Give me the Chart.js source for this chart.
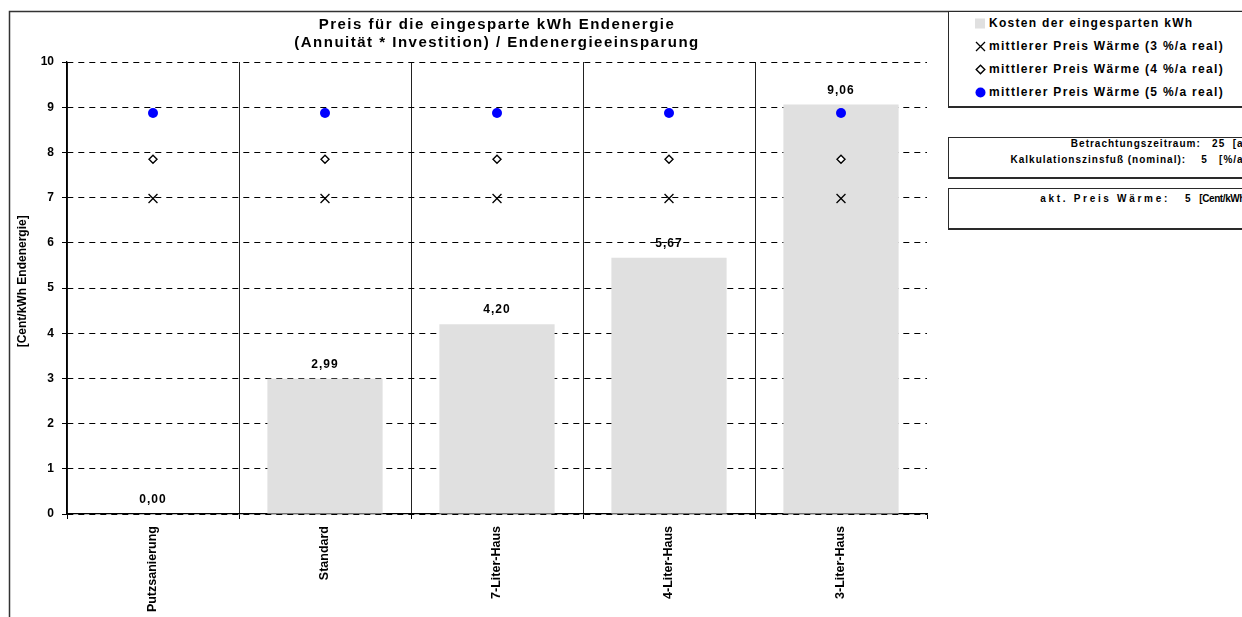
<!DOCTYPE html>
<html>
<head>
<meta charset="utf-8">
<script src="https://cdn.jsdelivr.net/npm/chart.js@4"></script>
<style>
  body { margin: 0; background: #fff; }
  #wrap { position: relative; width: 1242px; height: 617px; overflow: hidden; font-family: "Liberation Sans", Arial, sans-serif; font-weight: bold; color: #000; }
  #chart { position: absolute; left: 0; top: 0; }
  .box { position: absolute; left: 948px; background: #fff; border: 1.5px solid #2a2a2a; border-bottom-width: 2px; box-sizing: border-box; }
  .legend { top: 11px; width: 320px; height: 97px; font-size: 12px; letter-spacing: 1.3px; }
  .row { position: relative; height: 23px; line-height: 23px; padding-left: 40px; white-space: nowrap; }
  .row svg { position: absolute; left: 26px; top: 6px; }
  .info { width: 312px; height: 42px; font-size: 10px; letter-spacing: 1px; text-align: right; padding-right: 11px; line-height: 16px; }
  .info div { white-space: pre; }
  .wide { letter-spacing: 2.7px; }
  .tight { letter-spacing: -0.4px; }
</style>
</head>
<body>
<div id="wrap">
  <canvas id="chart" width="1242" height="617"></canvas>
  <div class="box legend" id="legend"></div>
  <div class="box info" style="top:137px">
    <div style="margin-top:-2.5px">Betrachtungszeitraum:   25  [a]</div>
    <div>Kalkulationszinsfuß (nominal):    5   [%/a]</div>
  </div>
  <div class="box info" style="top:188px">
    <div style="margin-top:1.5px"><span class="wide">akt. Preis Wärme:</span>    5  <span class="tight">[Cent/kWh]</span></div>
  </div>
</div>
<script>
const categories = ["Putzsanierung", "Standard", "7-Liter-Haus", "4-Liter-Haus", "3-Liter-Haus"];
const kosten = [0.00, 2.99, 4.20, 5.67, 9.06];
const preis3 = [6.98, 6.98, 6.98, 6.98, 6.98];
const preis4 = [7.85, 7.85, 7.85, 7.85, 7.85];
const preis5 = [8.87, 8.87, 8.87, 8.87, 8.87];
const yMin = 0, yMax = 10, yStep = 1;

const titleLines = ["Preis für die eingesparte kWh Endenergie", "(Annuität * Investition) / Endenergieeinsparung"];
const yTitle = "    [Cent/kWh Endenergie]";
const legendLabels = ["Kosten der eingesparten kWh", "mittlerer Preis Wärme (3 %/a real)", "mittlerer Preis Wärme (4 %/a real)", "mittlerer Preis Wärme (5 %/a real)"];

const FONT = "'Liberation Sans', Arial, sans-serif";
Chart.defaults.font.family = FONT;
Chart.defaults.color = "#000";

// legend markers (html)
const markers = [
  '<svg width="11" height="11"><rect x="0" y="0.5" width="10" height="10" fill="#e0e0e0"/></svg>',
  '<svg width="11" height="11"><path d="M1 1L10 10M10 1L1 10" stroke="#000" stroke-width="1.3"/></svg>',
  '<svg width="11" height="11"><path d="M5.5 1.2L9.8 5.5L5.5 9.8L1.2 5.5Z" fill="#fff" stroke="#000" stroke-width="1.4"/></svg>',
  '<svg width="11" height="11"><circle cx="5.5" cy="5.5" r="5" fill="#0000ff"/></svg>'
];
document.getElementById("legend").innerHTML = legendLabels
  .map((l, i) => `<div class="row">${markers[i]}${l}</div>`).join("");

const framePlugin = {
  id: "frame",
  beforeDraw(chart) {
    const ctx = chart.ctx;
    ctx.save();
    ctx.strokeStyle = "#333";
    ctx.lineWidth = 1.5;
    ctx.beginPath();
    ctx.moveTo(9.5, chart.height);
    ctx.lineTo(9.5, 11.5);
    ctx.lineTo(chart.width, 11.5);
    ctx.stroke();
    ctx.restore();
  },
  afterDraw(chart) {
    const ctx = chart.ctx;
    const a = chart.chartArea;
    ctx.save();
    ctx.fillStyle = "#000";
    ctx.font = "bold 15px " + FONT;
    ctx.letterSpacing = "1.5px";
    ctx.textAlign = "center";
    ctx.textBaseline = "alphabetic";
    const cx = (a.left + a.right) / 2;
    ctx.fillText(titleLines[0], cx, 29);
    ctx.fillText(titleLines[1], cx, 47);
    ctx.restore();
  }
};

const valueLabels = {
  id: "valueLabels",
  afterDatasetsDraw(chart) {
    const ctx = chart.ctx;
    const meta = chart.getDatasetMeta(0);
    ctx.save();
    ctx.fillStyle = "#000";
    ctx.font = "bold 12px " + FONT;
    ctx.letterSpacing = "1px";
    ctx.textAlign = "center";
    ctx.textBaseline = "middle";
    meta.data.forEach((bar, i) => {
      ctx.fillText(kosten[i].toFixed(2).replace(".", ","), bar.x, bar.y - 14);
    });
    ctx.restore();
  }
};

new Chart(document.getElementById("chart"), {
  type: "bar",
  data: {
    labels: categories,
    datasets: [
      {
        label: legendLabels[0], data: kosten, backgroundColor: "#e0e0e0",
        barPercentage: 0.67, categoryPercentage: 1, order: 2
      },
      {
        type: "line", label: legendLabels[1], data: preis3, showLine: false,
        pointStyle: "crossRot", pointRadius: 6.3, borderColor: "#000", borderWidth: 1.3, order: 1
      },
      {
        type: "line", label: legendLabels[2], data: preis4, showLine: false,
        pointStyle: "rectRot", pointRadius: 4, backgroundColor: "#fff", borderColor: "#000", borderWidth: 1.4, order: 1
      },
      {
        type: "line", label: legendLabels[3], data: preis5, showLine: false,
        pointStyle: "circle", pointRadius: 5, backgroundColor: "#0000ff", borderColor: "#0000ff", borderWidth: 0, order: 1
      }
    ]
  },
  options: {
    responsive: false,
    animation: false,
    layout: { padding: { left: 10, top: 62, right: 315, bottom: 0 } },
    plugins: { legend: { display: false }, title: { display: false }, tooltip: { enabled: false } },
    scales: {
      x: {
        offset: true,
        grid: {
          offset: true,
          color: c => c.index === undefined ? "rgba(0,0,0,0)" : "#222",
          tickColor: "#000",
          tickLength: 5,
          lineWidth: 1
        },
        border: { color: "#000", width: 1.3 },
        ticks: { font: { size: 12.5, weight: "bold" }, minRotation: 90, maxRotation: 90, autoSkip: false, padding: 7 },
        afterFit(scale) { scale.height = 103; }
      },
      y: {
        min: yMin, max: yMax,
        grid: { color: "#000", tickColor: "#000", tickLength: 5, tickBorderDash: [], lineWidth: 1 },
        border: { color: "#000", width: 1.3, dash: [6, 5] },
        ticks: { stepSize: yStep, font: { size: 12, weight: "bold" }, padding: 8 },
        title: { display: true, text: yTitle, font: { size: 12, weight: "bold" }, padding: { top: 5, bottom: 0 } },
        afterFit(scale) { scale.width = 57; }
      }
    }
  },
  plugins: [framePlugin, valueLabels]
});
</script>
</body>
</html>
